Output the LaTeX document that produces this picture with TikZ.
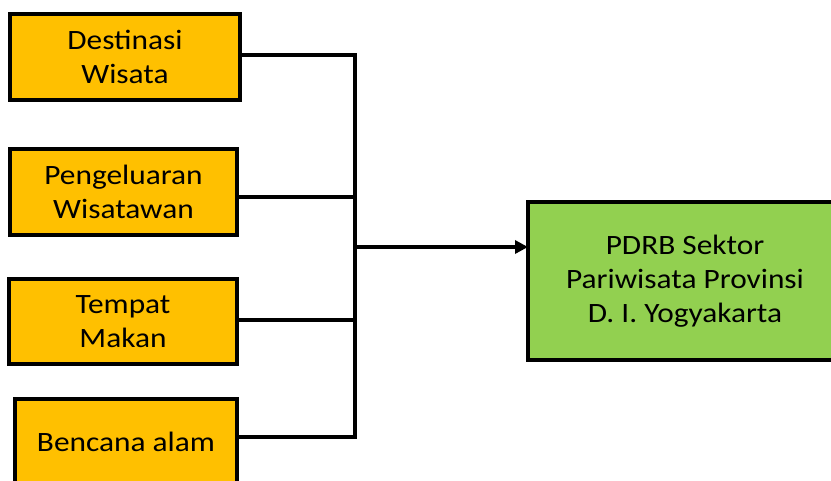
\documentclass[tikz,border=0pt]{standalone}
\usepackage{fontspec}
\setmainfont{Carlito}[FakeStretch=1.12]
\usetikzlibrary{arrows.meta,calc}
\begin{document}
\begin{tikzpicture}[x=1pt,y=-1pt,
  box/.style={draw=black, line width=4pt, align=center, inner sep=0pt, outer sep=0pt,
    font=\fontsize{28}{34}\selectfont, text=black},
  inbox/.style={box, fill=orangebox},
  conn/.style={line width=4pt, draw=black},
]
\definecolor{orangebox}{HTML}{FFC000}
\definecolor{greenbox}{HTML}{92D050}
\useasboundingbox (0,0) rectangle (831,480);
\begin{scope}
\clip (0,0) rectangle (831,480);
\node[inbox, minimum width=230pt, minimum height=86pt] (b1) at (125,57) {Destinasi\\Wisata};
\node[inbox, minimum width=227pt, minimum height=86pt] (b2) at (123.5,192) {Pengeluaran\\Wisatawan};
\node[inbox, minimum width=228pt, minimum height=85pt] (b3) at (123,321.5) {Tempat\\Makan};
\node[inbox, minimum width=222pt, minimum height=86pt] (b4) at (126,442) {Bencana alam};
\node[box, fill=greenbox, minimum width=314pt, minimum height=158pt] (g) at (685,281)
  {PDRB Sektor\\Pariwisata Provinsi\\D. I. Yogyakarta};
\end{scope}
\coordinate (j1) at (355,55);
\coordinate (j4) at (355,437);
\coordinate (ja) at (355,247);
\coordinate (c1) at ($(b1.east)+(0,-2)$);
\coordinate (c2) at ($(b2.east)+(0,5)$);
\coordinate (c3) at ($(b3.east)+(0,-1.5)$);
\coordinate (c4) at ($(b4.east)+(0,-5)$);
\draw[conn] (c1) -- (c1 -| j1);
\draw[conn] (c2) -- (c2 -| j1);
\draw[conn] (c3) -- (c3 -| j1);
\draw[conn] (c4) -- (c4 -| j1);
\draw[conn, line cap=rect] (j1) -- (j4);
\draw[conn, -{Triangle[length=13pt,width=13pt]}] (ja) -- (ja -| g.west);
\end{tikzpicture}
\end{document}
